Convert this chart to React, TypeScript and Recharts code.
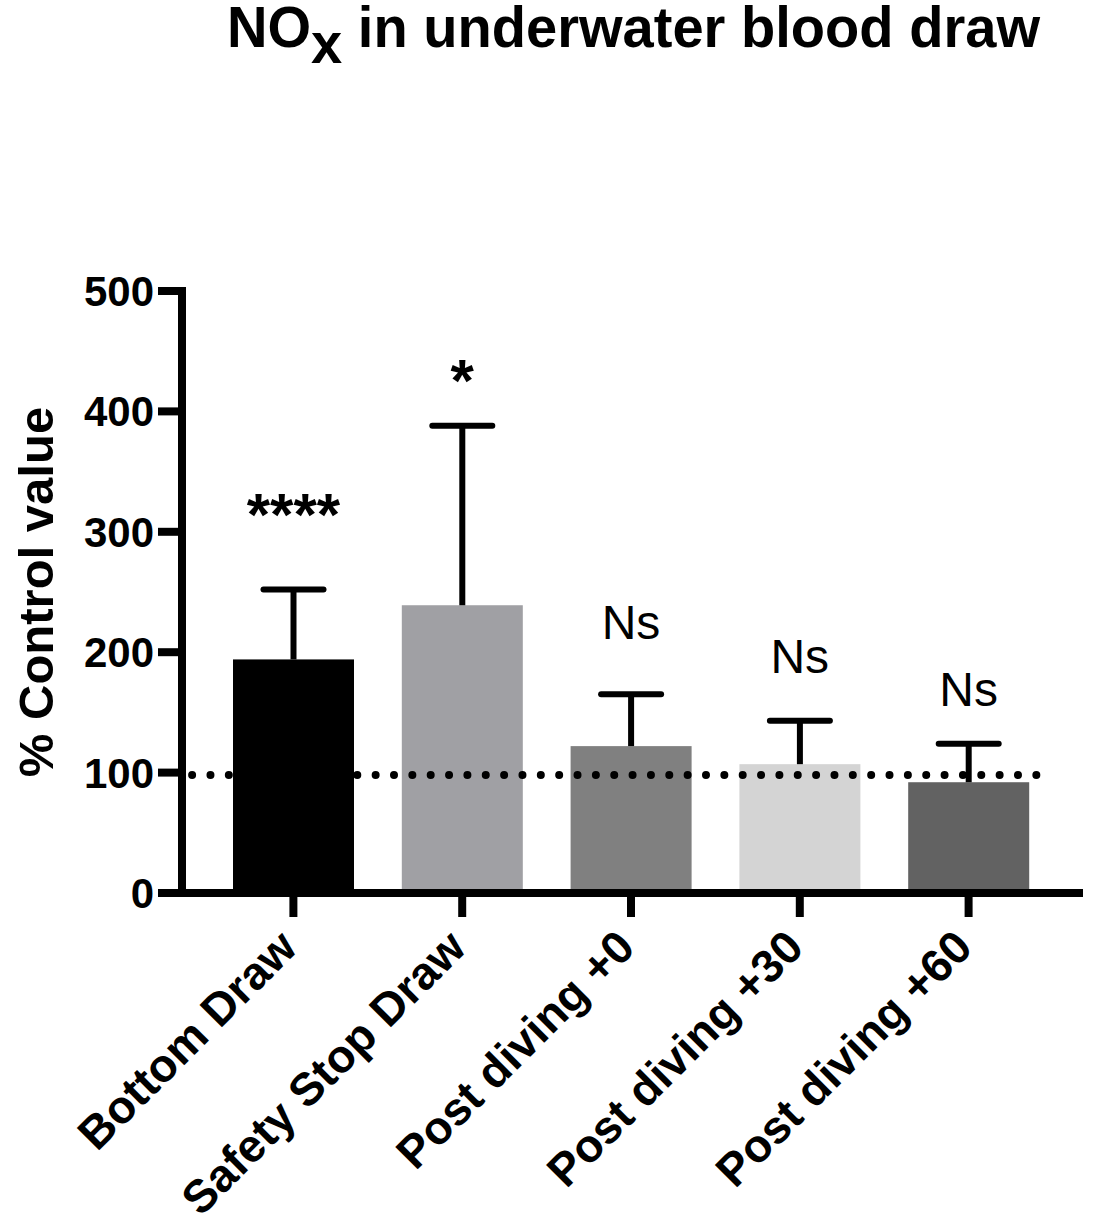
import React from 'react';
import {
  ComposedChart,
  Bar,
  Cell,
  Line,
  XAxis,
  YAxis,
  ReferenceLine,
  Label,
} from 'recharts';

const categories = ['Bottom Draw', 'Safety Stop Draw', 'Post diving +0', 'Post diving +30', 'Post diving +60'];
const meanValues = [194, 239, 122, 107, 92];
const sdValues = [58, 149, 43, 36, 32];
const barColors = ['#000000', '#a0a0a4', '#808080', '#d4d4d4', '#626262'];
const annotations = ['****', '*', 'Ns', 'Ns', 'Ns'];
const annotationLevels = [297, 409, 211, 183, 155];
const yTicks = [0, 100, 200, 300, 400, 500];
const controlLevel = 98;
// extent of the dotted control line, in category-band units (0 = start of first band)
const controlSpan = [-0.1, 5.01];

const FONT = "'Liberation Sans', Arial, Helvetica, sans-serif";
const PAD_L = 27;
const PAD_R = 30;

const data = categories.map((c, i) => ({
  name: c,
  mean: meanValues[i],
  sd: sdValues[i],
  annot: annotations[i],
  annotY: annotationLevels[i],
}));

const BarWithError = (props: any) => {
  const { x, y, width, height, fill, payload } = props;
  const k = height / payload.mean;
  const top = y - payload.sd * k;
  const cx = x + width / 2;
  return (
    <g>
      <rect x={x} y={y} width={width} height={height} fill={fill} />
      <line x1={cx} x2={cx} y1={y} y2={top} stroke="#000" strokeWidth={6} />
      <line x1={cx - 30} x2={cx + 30} y1={top} y2={top} stroke="#000" strokeWidth={6} strokeLinecap="round" />
    </g>
  );
};

const ControlLine = (props: any) => {
  const { x1, x2, y1 } = props;
  const left = Math.min(x1, x2);
  const right = Math.max(x1, x2);
  const bandW = (right - left - PAD_L - PAD_R) / categories.length;
  const start = left + PAD_L + controlSpan[0] * bandW;
  const end = left + PAD_L + controlSpan[1] * bandW;
  const n = Math.round((end - start) / 18.45);
  const gap = (end - start) / n;
  return (
    <line
      x1={start}
      x2={end}
      y1={y1}
      y2={y1}
      stroke="#000"
      strokeWidth={8}
      strokeDasharray={`0 ${gap}`}
      strokeLinecap="round"
    />
  );
};

const AnnotDot = (props: any) => {
  const { cx, cy, payload } = props;
  const isStar = payload.annot.indexOf('*') >= 0;
  return (
    <text
      key={payload.name}
      x={cx}
      y={cy}
      textAnchor="middle"
      fontFamily={FONT}
      fontWeight={isStar ? 'bold' : 'normal'}
      fontSize={isStar ? 60 : 48}
      fill="#000"
    >
      {payload.annot}
    </text>
  );
};

const XTick = (props: any) => {
  const { x, y, payload } = props;
  return (
    <g transform={`translate(${x + 6},${y + 33})`}>
      <text
        x={0}
        y={0}
        textAnchor="end"
        transform="rotate(-45)"
        fontFamily={FONT}
        fontWeight="bold"
        fontSize={46}
        fill="#000"
      >
        {payload.value}
      </text>
    </g>
  );
};

const YTitle = (props: any) => {
  const vb = props.viewBox || { y: 291, height: 602 };
  const cy = vb.y + vb.height / 2;
  const x = 53;
  return (
    <text
      x={x}
      y={cy}
      textAnchor="middle"
      transform={`rotate(-90, ${x}, ${cy})`}
      fontFamily={FONT}
      fontWeight="bold"
      fontSize={49}
      fill="#000"
    >
      % Control value
    </text>
  );
};

export default function App() {
  return (
    <div style={{ position: 'absolute', left: 0, top: 0, width: 1093, height: 1221, background: '#fff' }}>
      <svg width={1093} height={80} style={{ position: 'absolute', left: 0, top: 0 }}>
        <text
          x={227}
          y={47}
          fontFamily={FONT}
          fontWeight="bold"
          fontSize={58}
          fill="#000"
          textLength={813}
          lengthAdjust="spacingAndGlyphs"
          style={{ whiteSpace: 'pre' }}
        >
          NO<tspan dy={16}>x</tspan>
          <tspan dy={-16}> in underwater blood draw</tspan>
        </text>
      </svg>
      <div style={{ position: 'absolute', left: 0, top: 0 }}>
        <ComposedChart
          width={1093}
          height={1221}
          data={data}
          margin={{ top: 291, right: 10, bottom: 0, left: 0 }}
          barSize={121}
        >
          <XAxis
            dataKey="name"
            type="category"
            padding={{ left: PAD_L, right: PAD_R }}
            height={328}
            interval={0}
            tickSize={24}
            tickMargin={0}
            axisLine={{ stroke: '#000', strokeWidth: 8 }}
            tickLine={{ stroke: '#000', strokeWidth: 8 }}
            tick={<XTick />}
          />
          <YAxis
            type="number"
            domain={[0, 500]}
            ticks={yTicks}
            width={182}
            tickSize={24}
            tickMargin={4}
            interval={0}
            axisLine={{ stroke: '#000', strokeWidth: 8, strokeLinecap: 'square' }}
            tickLine={{ stroke: '#000', strokeWidth: 8 }}
            tick={{ fill: '#000', fontSize: 42, fontWeight: 'bold', fontFamily: FONT }}
          >
            <Label content={<YTitle />} />
          </YAxis>
          <Bar dataKey="mean" isAnimationActive={false} shape={<BarWithError />}>
            {data.map((d, i) => (
              <Cell key={d.name} fill={barColors[i]} />
            ))}
          </Bar>
          <ReferenceLine y={controlLevel} stroke="#000" shape={<ControlLine />} />
          <Line
            dataKey="annotY"
            stroke="none"
            isAnimationActive={false}
            dot={<AnnotDot />}
            activeDot={false}
            legendType="none"
          />
        </ComposedChart>
      </div>
    </div>
  );
}
